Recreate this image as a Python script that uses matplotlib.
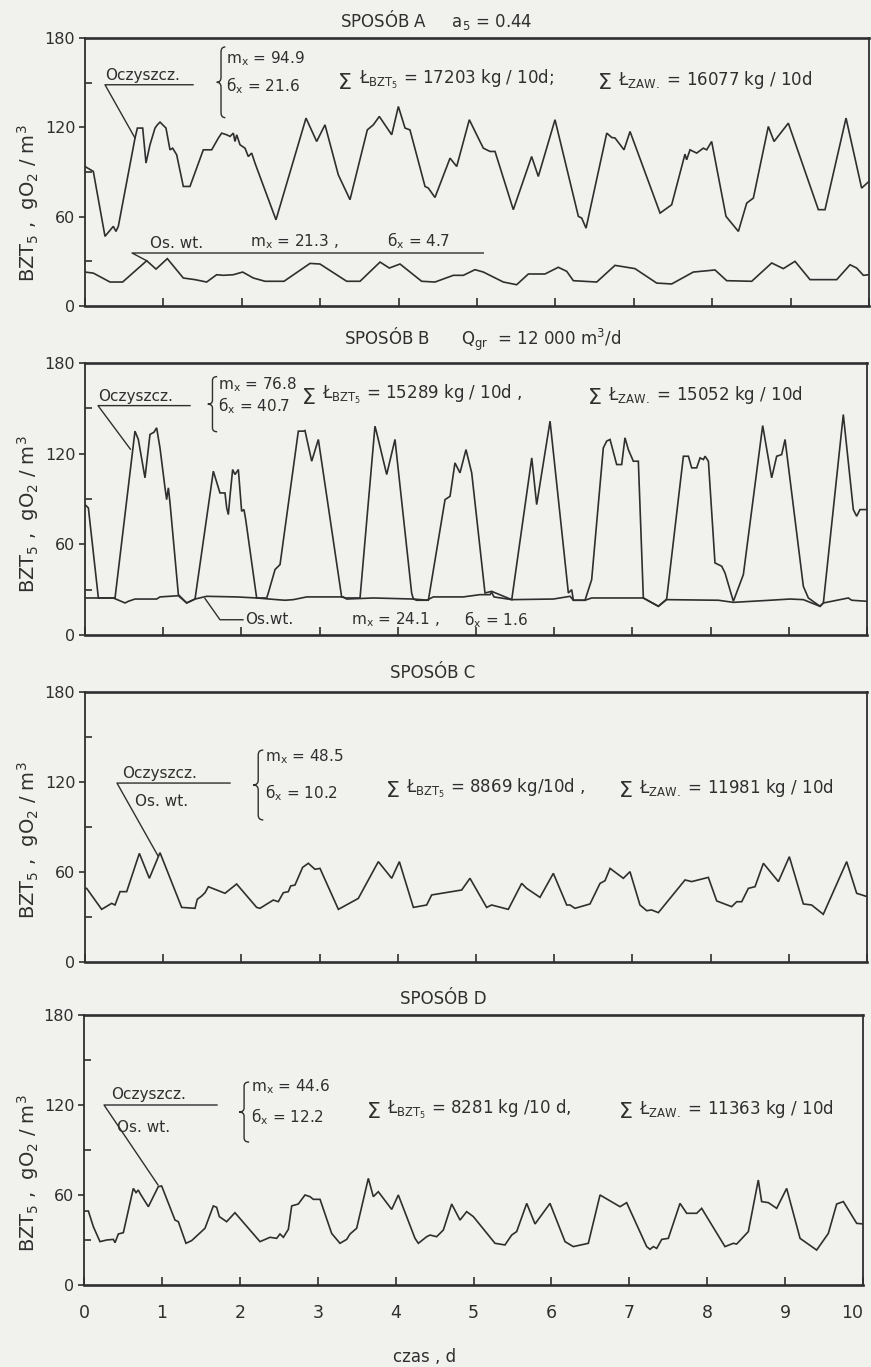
import numpy as np
import matplotlib
matplotlib.use('Agg')
import matplotlib.pyplot as plt
from matplotlib.path import Path
from matplotlib.patches import PathPatch
from matplotlib.lines import Line2D

plt.rcParams['font.family'] = ['DejaVu Sans']
plt.rcParams['mathtext.fontset'] = 'dejavusans'
plt.rcParams['mathtext.default'] = 'regular'

# ---------------- data (time in days, BZT5 in gO2/m3) ----------------
a_treated = [(0.0,93.7),(0.106,90.4),(0.255,46.8),(0.361,53.5),(0.395,50.1),(0.425,53.5),(0.638,112.8),(0.668,119.5),(0.736,119.5),(0.778,96.0),(0.829,108.3),(0.893,119.5),(0.923,121.7),(0.957,123.5),(1.033,119.5),(1.084,104.9),(1.118,106.0),(1.169,101.6),(1.254,80.3),(1.339,80.3),(1.509,104.9),(1.616,104.9),(1.701,112.8),(1.743,116.1),(1.807,115.0),(1.850,113.9),(1.892,116.1),(1.913,110.5),(1.935,115.0),(1.977,108.3),(2.041,106.0),(2.083,100.4),(2.126,102.7),(2.168,96.0),(2.436,57.9),(2.819,126.2),(2.955,110.5),(3.061,121.7),(3.231,88.1),(3.380,71.4),(3.601,118.3),(3.678,121.7),(3.754,127.3),(3.912,115.0),(3.997,134.0),(4.082,119.5),(4.145,118.3),(4.337,80.3),(4.379,79.2),(4.464,72.9),(4.656,99.3),(4.741,93.7),(4.902,125.1),(5.038,110.5),(5.081,106.0),(5.166,103.8),(5.230,103.8),(5.463,64.7),(5.697,100.4),(5.782,87.0),(5.995,125.1),(6.293,60.2),(6.335,59.1),(6.391,52.3),(6.655,116.1),(6.718,113.2),(6.761,112.8),(6.875,104.9),(6.952,117.2),(7.335,62.4),(7.483,68.0),(7.653,102.0),(7.674,98.2),(7.717,104.9),(7.802,102.7),(7.887,106.0),(7.930,104.9),(7.993,110.5),(8.176,60.2),(8.334,50.1),(8.440,69.1),(8.525,72.5),(8.716,120.6),(8.789,110.5),(8.971,122.8),(9.354,64.7),(9.439,64.7),(9.707,126.2),(9.906,79.2),(10.0,83.7)]
a_overflow = [(0.0,22.8),(0.106,22.1),(0.319,16.1),(0.480,16.1),(0.787,30.4),(0.906,24.8),(1.050,31.8),(1.254,18.8),(1.403,17.7),(1.552,16.1),(1.679,21.0),(1.764,20.6),(1.892,21.0),(2.011,22.8),(2.147,18.8),(2.296,16.6),(2.538,16.6),(2.870,28.6),(2.997,28.2),(3.338,16.6),(3.508,16.6),(3.763,29.5),(3.882,25.5),(4.018,28.2),(4.294,16.6),(4.464,16.1),(4.698,20.6),(4.826,20.6),(4.974,24.4),(5.081,22.8),(5.336,16.1),(5.506,14.3),(5.655,21.5),(5.867,21.5),(6.037,26.0),(6.144,23.3),(6.229,17.0),(6.527,16.1),(6.760,27.3),(7.015,25.1),(7.292,15.4),(7.483,14.8),(7.759,22.8),(8.036,24.2),(8.185,17.0),(8.504,16.6),(8.759,28.9),(8.907,25.1),(9.056,30.0),(9.248,17.7),(9.588,17.7),(9.758,27.7),(9.843,25.5),(9.928,20.6),(10.0,21.0)]

b_treated = [(0.0,86.3),(0.043,84.1),(0.171,24.5),(0.384,24.5),(0.639,134.9),(0.682,129.4),(0.767,104.0),(0.831,132.7),(0.882,134.2),(0.916,137.1),(0.959,123.8),(1.023,97.4),(1.044,89.6),(1.066,97.4),(1.087,87.4),(1.194,26.7),(1.300,21.2),(1.407,23.8),(1.641,108.4),(1.726,94.0),(1.790,94.0),(1.812,84.1),(1.833,79.7),(1.854,91.8),(1.888,109.5),(1.918,106.2),(1.961,109.5),(2.003,81.9),(2.033,83.0),(2.055,76.4),(2.195,24.5),(2.323,24.5),(2.344,27.8),(2.430,43.3),(2.494,46.6),(2.728,134.9),(2.792,134.9),(2.813,135.3),(2.899,115.0),(2.984,129.4),(3.282,25.2),(3.325,24.5),(3.517,24.5),(3.708,138.2),(3.730,133.8),(3.858,106.2),(3.964,129.4),(4.177,27.8),(4.199,23.8),(4.391,23.0),(4.604,89.6),(4.668,91.8),(4.731,113.9),(4.795,107.3),(4.872,122.7),(4.945,107.3),(5.115,27.8),(5.200,28.9),(5.457,23.4),(5.713,117.2),(5.776,86.3),(5.947,141.5),(6.181,27.8),(6.224,30.0),(6.245,23.0),(6.394,23.0),(6.479,36.6),(6.628,123.8),(6.671,128.3),(6.714,129.4),(6.799,112.8),(6.863,112.8),(6.905,130.5),(6.948,122.7),(7.012,115.0),(7.076,115.0),(7.140,24.5),(7.332,19.0),(7.438,23.8),(7.652,118.3),(7.716,118.3),(7.758,110.6),(7.822,110.6),(7.865,117.2),(7.908,116.1),(7.929,118.3),(7.972,115.0),(8.056,47.7),(8.142,45.5),(8.184,41.1),(8.291,22.3),(8.419,40.0),(8.666,138.6),(8.781,104.0),(8.845,118.3),(8.909,119.4),(8.952,129.4),(9.186,32.2),(9.250,24.5),(9.399,19.0),(9.442,21.2),(9.697,145.9),(9.825,83.0),(9.868,78.6),(9.910,83.0),(10.0,83.0)]
b_overflow = [(0.0,24.5),(0.362,24.5),(0.512,21.2),(0.554,22.3),(0.639,23.8),(0.916,23.8),(0.959,25.2),(1.194,26.0),(1.300,21.2),(1.407,23.8),(1.556,25.6),(1.939,25.2),(2.195,24.5),(2.451,23.4),(2.558,23.0),(2.664,23.4),(2.835,25.2),(3.303,25.2),(3.346,23.8),(3.687,24.5),(4.199,23.8),(4.241,23.0),(4.369,23.0),(4.454,25.2),(4.838,25.2),(5.051,26.7),(5.179,26.7),(5.200,28.3),(5.230,25.2),(5.457,23.4),(5.990,23.8),(6.203,25.6),(6.245,23.0),(6.394,23.0),(6.479,24.5),(7.140,24.5),(7.332,19.0),(7.438,23.4),(8.099,23.0),(8.291,21.6),(8.760,23.0),(9.016,23.8),(9.186,23.4),(9.399,19.0),(9.442,21.2),(9.761,24.5),(9.804,23.0),(10.0,22.3)]

c_mixed = [(0.0,49.1),(0.021,49.1),(0.213,35.1),(0.341,39.1),(0.384,38.0),(0.448,46.9),(0.533,46.9),(0.695,72.4),(0.823,55.8),(0.959,72.9),(1.236,36.4),(1.407,35.8),(1.436,41.8),(1.492,44.0),(1.535,46.2),(1.577,50.2),(1.790,45.8),(1.939,52.0),(2.195,36.4),(2.238,35.8),(2.408,41.3),(2.472,40.2),(2.536,46.2),(2.600,46.9),(2.630,50.7),(2.685,51.3),(2.783,63.1),(2.856,65.8),(2.941,61.8),(3.005,62.4),(3.240,35.1),(3.495,42.4),(3.751,66.9),(3.922,55.8),(4.020,66.9),(4.199,36.4),(4.369,38.0),(4.433,44.7),(4.817,48.0),(4.923,55.8),(5.136,36.4),(5.200,38.0),(5.413,35.1),(5.584,52.4),(5.648,49.1),(5.818,43.1),(5.989,59.1),(6.160,38.0),(6.202,38.0),(6.266,35.8),(6.458,38.7),(6.586,52.4),(6.650,54.2),(6.714,62.4),(6.884,55.8),(6.969,60.2),(7.097,38.0),(7.183,34.2),(7.246,34.7),(7.332,32.9),(7.673,54.7),(7.758,53.6),(7.971,56.4),(8.078,40.7),(8.270,36.9),(8.334,40.2),(8.398,40.2),(8.483,49.1),(8.568,50.2),(8.675,65.8),(8.867,53.6),(9.007,70.2),(9.186,38.7),(9.292,38.0),(9.441,31.8),(9.740,66.9),(9.868,45.8),(10.0,43.6)]

d_mixed = [(0.0,49.3),(0.056,49.3),(0.120,38.9),(0.205,28.9),(0.291,30.0),(0.377,30.4),(0.398,28.2),(0.441,34.0),(0.505,34.9),(0.633,64.4),(0.668,61.6),(0.697,63.3),(0.719,61.1),(0.826,52.2),(0.954,65.6),(0.997,66.0),(1.168,43.3),(1.211,42.2),(1.309,27.8),(1.382,29.6),(1.553,37.8),(1.660,52.7),(1.703,51.8),(1.737,45.6),(1.831,42.2),(1.938,48.2),(2.259,28.9),(2.388,31.8),(2.473,31.1),(2.516,34.0),(2.559,31.8),(2.623,37.1),(2.666,52.7),(2.751,54.0),(2.837,60.0),(2.901,58.9),(2.944,57.1),(3.030,57.1),(3.179,34.4),(3.286,27.8),(3.372,30.4),(3.415,34.0),(3.500,37.8),(3.650,71.1),(3.714,58.9),(3.778,62.2),(3.950,50.4),(4.035,60.0),(4.249,31.1),(4.292,27.8),(4.399,32.2),(4.442,33.3),(4.527,32.2),(4.613,36.7),(4.720,54.0),(4.827,43.3),(4.912,48.9),(4.998,45.6),(5.276,27.8),(5.404,26.7),(5.490,33.3),(5.554,35.6),(5.683,54.4),(5.790,40.7),(5.982,54.4),(6.175,28.9),(6.281,25.6),(6.474,27.8),(6.624,60.0),(6.881,52.2),(6.966,54.9),(7.223,25.6),(7.266,23.8),(7.309,25.6),(7.352,24.4),(7.416,30.4),(7.501,31.1),(7.651,54.4),(7.737,47.8),(7.865,47.8),(7.929,51.1),(8.228,25.6),(8.336,27.8),(8.378,27.3),(8.528,35.6),(8.656,70.0),(8.699,55.6),(8.785,54.9),(8.892,51.1),(9.020,64.4),(9.192,31.1),(9.405,23.3),(9.555,34.4),(9.662,54.0),(9.748,55.6),(9.919,41.1),(10.0,40.7)]

x_ticks = list(range(11))
y_major = [0, 60, 120, 180]
y_minor = [30, 90, 150]

titles = ["SPOSÓB A     a$_5$ = 0.44",
          "SPOSÓB B      Q$_{gr}$  = 12 000 m$^3$/d",
          "SPOSÓB C",
          "SPOSÓB D"]
stats_m = ["94.9", "76.8", "48.5", "44.6"]
stats_s = ["21.6", "40.7", "10.2", "12.2"]
load_bzt = ["= 17203 kg / 10d;", "= 15289 kg / 10d ,", "= 8869 kg/10d ,", "= 8281 kg /10 d,"]
load_zaw = ["= 16077 kg / 10d", "= 15052 kg / 10d", "= 11981 kg / 10d", "= 11363 kg / 10d"]

# ---------------- figure ----------------
W, H = 871, 1367
fig = plt.figure(figsize=(W / 100, H / 100), dpi=100)
bg = '#f1f1ee'
ink = '#2f2f2f'
fig.patch.set_facecolor(bg)


def px_axes(l, r, top, bottom):
    return fig.add_axes([l / W, 1 - bottom / H, (r - l) / W, (bottom - top) / H])


axA = px_axes(85, 869, 38, 306)
axB = px_axes(85, 867, 363, 635)
axC = px_axes(85, 867, 692, 962)
axD = px_axes(84, 863, 1015, 1285)
axes = [axA, axB, axC, axD]


def style(ax, xlabels=False):
    ax.set_facecolor(bg)
    ax.set_xlim(0, 10)
    ax.set_ylim(0, 180)
    ax.set_xticks(x_ticks)
    ax.set_yticks(y_major)
    ax.set_yticks(y_minor, minor=True)
    ax.tick_params(axis='x', direction='in', length=6, width=1.2, colors=ink,
                   labelsize=12.5, pad=14, labelbottom=xlabels)
    ax.tick_params(axis='y', which='major', direction='out', length=4, width=1.2,
                   colors=ink, labelsize=11.5, pad=3)
    ax.tick_params(axis='y', which='minor', direction='in', length=5, width=1.2, colors=ink)
    for s in ax.spines.values():
        s.set_color(ink)
        s.set_linewidth(1.3)
    ax.spines['top'].set_linewidth(1.9)
    ax.spines['bottom'].set_linewidth(1.9)


def series(ax, pairs):
    t, v = np.array(pairs).T
    ax.plot(t, v, color=ink, lw=1.2, solid_joinstyle='miter')


def polyline(ax, pts):
    xs, ys = zip(*pts)
    ax.add_line(Line2D(xs, ys, color=ink, lw=1.0, clip_on=False))


def brace(ax, x, w, y0, y1):
    ym = 0.5 * (y0 + y1)
    q = (y1 - y0) * 0.07
    xm = x + w / 2
    verts = [(x + w, y1), (xm, y1), (xm, y1 - q), (xm, ym + q), (xm, ym), (x, ym),
             (xm, ym), (xm, ym - q), (xm, y0 + q), (xm, y0), (x + w, y0)]
    codes = [Path.MOVETO, Path.CURVE3, Path.CURVE3, Path.LINETO, Path.CURVE3, Path.CURVE3,
             Path.CURVE3, Path.CURVE3, Path.LINETO, Path.CURVE3, Path.CURVE3]
    ax.add_patch(PathPatch(Path(verts, codes), fill=False, edgecolor=ink, lw=1.0, clip_on=False))


def txt(ax, x, y, s, size=11, va='center', ha='left'):
    ax.text(x, y, s, fontsize=size, color=ink, va=va, ha=ha)


def loads(ax, x_bzt, x_zaw, y, i):
    txt(ax, x_bzt, y, "Σ", size=16)
    txt(ax, x_bzt + 0.26, y + 2, "Ł$_{BZT_5}$ " + load_bzt[i], size=12)
    txt(ax, x_zaw, y, "Σ", size=16)
    txt(ax, x_zaw + 0.26, y + 2, "Ł$_{ZAW.}$ " + load_zaw[i], size=12)


for i, ax in enumerate(axes):
    style(ax, xlabels=(i == 3))

# keep the last x tick label ("10") inside the picture
fig.canvas.draw()
last_lbl = axD.get_xticklabels()[-1]
last_lbl.set_horizontalalignment('right')

series(axA, a_treated)
series(axA, a_overflow)
series(axB, b_treated)
series(axB, b_overflow)
series(axC, c_mixed)
series(axD, d_mixed)

# ---- panel A annotations
txt(axA, 0.255, 150.0, "Oczyszcz.", va='bottom')
polyline(axA, [(0.638, 112.8), (0.255, 148.6), (1.378, 148.6)])
brace(axA, 1.68, 0.11, 126.5, 174.0)
txt(axA, 1.80, 166, "m$_x$ = " + stats_m[0])
txt(axA, 1.80, 148, "б$_x$ = " + stats_s[0])
loads(axA, 3.23, 6.54, 150, 0)
txt(axA, 0.83, 37.0, "Os. wt.", va='bottom')
txt(axA, 2.10, 37.0, "m$_x$ = 21.3 ,", va='bottom')
txt(axA, 3.85, 37.0, "б$_x$ = 4.7", va='bottom')
polyline(axA, [(0.787, 30.4), (0.60, 35.6), (5.08, 35.6)])
axA.text(0.448, 1.067, titles[0], transform=axA.transAxes, ha='center', va='center',
         fontsize=12, color=ink)

# ---- panel B annotations
txt(axB, 0.166, 153.0, "Oczyszcz.", va='bottom')
polyline(axB, [(0.58, 123.0), (0.166, 151.8), (1.343, 151.8)])
brace(axB, 1.57, 0.12, 134.5, 171.0)
txt(axB, 1.70, 166, "m$_x$ = " + stats_m[1])
txt(axB, 1.70, 152, "б$_x$ = " + stats_s[1])
loads(axB, 2.77, 6.43, 157, 1)
polyline(axB, [(1.535, 24.1), (1.726, 10.1), (2.02, 10.1)])
txt(axB, 2.05, 10.1, "Os.wt.")
txt(axB, 3.40, 10.1, "m$_x$ = 24.1 ,")
txt(axB, 4.85, 10.1, "б$_x$ = 1.6")
axB.text(0.508, 1.086, titles[1], transform=axB.transAxes, ha='center', va='center',
         fontsize=12, color=ink)

# ---- panel C annotations
txt(axC, 0.473, 121.0, "Oczyszcz.", va='bottom')
polyline(axC, [(0.934, 70.7), (0.409, 119.3), (1.854, 119.3)])
txt(axC, 0.64, 106.7, "Os. wt.")
brace(axC, 2.15, 0.13, 94.7, 141.3)
txt(axC, 2.30, 136.7, "m$_x$ = " + stats_m[2])
txt(axC, 2.30, 112.7, "б$_x$ = " + stats_s[2])
loads(axC, 3.85, 6.83, 114, 2)
axC.text(0.444, 1.070, titles[2], transform=axC.transAxes, ha='center', va='center',
         fontsize=12, color=ink)

# ---- panel D annotations
txt(axD, 0.347, 121.8, "Oczyszcz.", va='bottom')
polyline(axD, [(0.95, 66.7), (0.257, 120.0), (1.707, 120.0)])
txt(axD, 0.424, 105.3, "Os. wt.")
brace(axD, 1.99, 0.13, 95.3, 135.3)
txt(axD, 2.14, 132, "m$_x$ = " + stats_m[3])
txt(axD, 2.14, 112, "б$_x$ = " + stats_s[3])
loads(axD, 3.63, 6.87, 115, 3)
axD.text(0.461, 1.059, titles[3], transform=axD.transAxes, ha='center', va='center',
         fontsize=12, color=ink)

# ---- axis titles
ylab = "BZT$_5$ ,  gO$_2$ / m$^3$"
for yc in [0.8515, 0.624, 0.3855, 0.1419]:
    fig.text(28 / W, yc, ylab, rotation=90, ha='center', va='center', fontsize=14, color=ink)
fig.text(425 / W, 1 - 1357 / H, "czas , d", ha='center', va='center', fontsize=12, color=ink)

fig.savefig('out.png', dpi=100, facecolor=bg)
